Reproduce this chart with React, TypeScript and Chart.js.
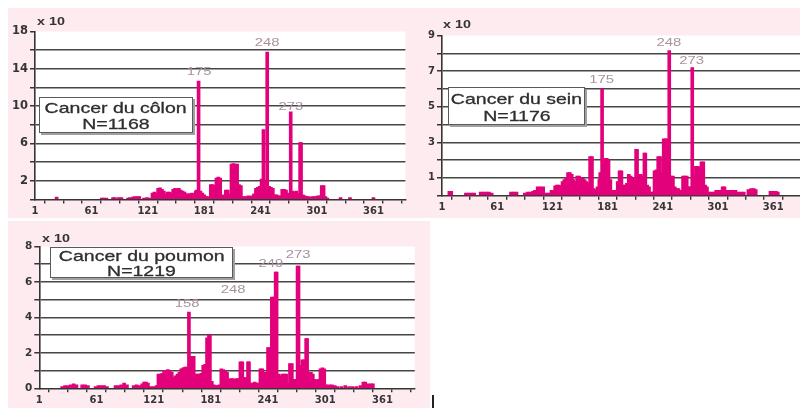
import React, { useEffect, useRef } from "react";
import { Chart, registerables } from "chart.js";

Chart.register(...registerables);

// ---------- data ----------
const xTickValues = [1, 21, 41, 61, 81, 101, 121, 141, 161, 181, 201, 221, 241, 261, 281, 301, 321, 341, 361, 381];
const xLabelValues = [1, 61, 121, 181, 241, 301, 361];

// Cancer du côlon (x 10)
const colonCodons = [
  24, 72, 74, 77, 84, 86, 90, 93, 100, 102, 105, 107, 110, 112, 117, 120, 123,
  126, 128, 130, 132, 134, 136, 138, 140, 142, 144, 146, 148, 150, 152, 154, 156,
  158, 160, 162, 164, 166, 168, 170, 172, 173, 175, 177, 179, 181, 183, 185,
  188, 190, 192, 194, 196, 198, 200, 202, 204, 206, 208, 210, 212, 214, 216, 218, 220,
  222, 224, 226, 228, 230, 232, 234, 236, 238, 240, 242, 244, 246, 248,
  250, 252, 254, 256, 258, 260, 262, 264, 266, 268, 270, 273, 275, 277, 279, 281, 283, 284,
  286, 288, 290, 292, 294, 296, 298, 300, 302, 304, 306, 308, 310, 312, 326, 336, 361,
];
const colonValues = [
  0.25, 0.15, 0.15, 0.15, 0.2, 0.2, 0.2, 0.2, 0.15, 0.2, 0.25, 0.3, 0.3, 0.3, 0.15, 0.2, 0.15,
  0.7, 0.8, 0.7, 1.2, 1.25, 1.1, 0.9, 0.6, 0.8, 0.8, 0.7, 1.1, 1.2, 1.1, 1.2, 1.0,
  0.9, 0.8, 0.6, 0.6, 0.6, 0.7, 0.6, 0.9, 1.0, 12.7, 0.9, 0.7, 0.5, 0.3, 0.3,
  1.6, 1.6, 1.5, 2.3, 2.4, 2.3, 0.4, 0.5, 1.0, 1.0, 0.6, 3.8, 3.85, 3.8, 3.8, 1.6, 1.5,
  0.3, 0.3, 0.3, 0.4, 0.3, 0.4, 0.6, 1.2, 1.3, 1.4, 2.2, 7.5, 2.0, 15.8,
  1.4, 1.3, 1.2, 0.5, 0.5, 0.4, 0.4, 1.1, 1.1, 1.0, 0.7, 9.4, 0.9, 0.8, 0.9, 0.6, 6.1, 6.1,
  0.5, 0.4, 0.3, 0.3, 0.2, 0.3, 0.3, 0.3, 0.4, 0.4, 1.5, 1.5, 0.3, 0.15, 0.2, 0.2, 0.2,
];
const colonYTicks = [0, 2, 4, 6, 8, 10, 12, 14, 16, 18];
const colonYLabels = [2, 6, 10, 14, 18];
const colonPeakTexts = ["175", "248", "273"];
const colonPeakCodons = [175.5, 247.8, 273.3];
const colonPeakValues = [13.67, 16.77, 9.91];

// Cancer du sein (x 10)
const seinCodons = [
  9, 11, 27, 30, 33, 36, 43, 46, 49, 52, 55, 76, 79, 82, 91, 94, 97, 100, 102,
  105, 108, 111, 114, 117, 120, 122, 124, 126, 128, 130, 132, 134, 136, 138, 140, 142,
  144, 146, 148, 150, 152, 154, 156, 158, 160, 162, 164, 166, 168, 170, 172, 173, 175,
  177, 178, 180, 182, 184, 186, 188, 190, 192, 194, 196, 198, 200, 202, 204, 206, 208, 210,
  212, 213, 215, 217, 219, 221, 222, 224, 226, 228, 230, 232, 234, 236, 238, 240, 242, 244, 246, 248,
  250, 252, 254, 256, 258, 260, 263, 265, 267, 269, 271, 273, 275, 277, 279, 281, 283, 285, 287, 289,
  291, 294, 297, 299, 302, 304, 306, 308, 311, 314, 317, 320, 323, 326, 329, 334, 337, 340, 342, 358, 361, 364, 366,
];
const seinValues = [
  0.25, 0.25, 0.15, 0.15, 0.15, 0.15, 0.2, 0.2, 0.2, 0.2, 0.15, 0.2, 0.2, 0.2, 0.15, 0.2, 0.2, 0.25, 0.3,
  0.5, 0.5, 0.5, 0.15, 0.15, 0.3, 0.3, 0.55, 0.6, 0.6, 0.55, 0.8, 0.9, 1.0, 1.3, 1.3, 1.2,
  0.9, 0.8, 1.1, 1.1, 1.0, 1.0, 0.9, 0.8, 0.7, 2.2, 2.2, 0.4, 0.3, 0.5, 0.9, 1.3, 6.0,
  1.2, 2.1, 2.1, 2.0, 0.9, 0.3, 0.3, 0.3, 0.8, 1.4, 1.4, 0.6, 0.6, 0.7, 1.2, 1.1, 1.0, 0.9,
  2.6, 2.6, 1.2, 1.2, 1.1, 2.4, 2.4, 0.6, 0.5, 0.2, 0.2, 1.4, 1.45, 2.2, 2.2, 1.3, 3.2, 3.2, 3.2, 8.15,
  1.1, 1.1, 0.5, 0.4, 0.4, 0.3, 1.1, 1.1, 1.1, 0.5, 0.5, 7.2, 1.1, 1.65, 1.65, 1.6, 1.9, 1.9, 0.6, 0.5,
  0.2, 0.2, 0.2, 0.3, 0.3, 0.3, 0.5, 0.5, 0.3, 0.3, 0.3, 0.3, 0.2, 0.2, 0.2, 0.35, 0.4, 0.4, 0.35, 0.25, 0.25, 0.25, 0.2,
];
const seinYTicks = [0, 1, 2, 3, 4, 5, 6, 7, 8, 9];
const seinYLabels = [1, 3, 5, 7, 9];
const seinPeakTexts = ["175", "248", "273"];
const seinPeakCodons = [174.6, 247.7, 272.4];
const seinPeakValues = [6.5, 8.58, 7.57];

// Cancer du poumon (x 10)
const poumonCodons = [
  25, 28, 31, 34, 37, 40, 46, 49, 52, 60, 63, 66, 69, 72, 81, 84, 87, 90, 93,
  100, 103, 106, 109, 111, 113, 115, 118, 121, 124, 126, 128, 130, 132, 134, 136, 138, 140,
  142, 144, 146, 148, 150, 152, 154, 156, 158, 160, 161, 163, 165, 167, 169, 171, 173, 175,
  177, 179, 180, 182, 184, 186, 188, 190, 192, 194, 196, 198, 200, 202, 204, 206, 208, 210,
  212, 214, 216, 218, 220, 221, 223, 225, 227, 229, 231, 233, 235, 237, 239, 241, 243, 245, 247, 249, 250,
  252, 254, 256, 258, 260, 262, 264, 266, 268, 270, 272, 273, 275, 277, 279, 281, 282, 284, 286, 288,
  290, 292, 294, 296, 298, 300, 302, 305, 308, 311, 314, 318, 322, 326, 330, 334, 338, 341, 343, 346, 349, 351,
];
const poumonValues = [
  0.1, 0.15, 0.15, 0.2, 0.25, 0.2, 0.2, 0.2, 0.15, 0.1, 0.15, 0.15, 0.15, 0.1, 0.15, 0.15, 0.2, 0.3, 0.2,
  0.15, 0.2, 0.15, 0.25, 0.35, 0.35, 0.3, 0.1, 0.1, 0.15, 0.8, 0.8, 0.85, 1.0, 1.0, 1.05, 1.0, 0.9,
  0.6, 0.7, 0.8, 0.9, 1.1, 1.15, 1.2, 1.2, 4.3, 1.2, 1.8, 1.8, 0.8, 0.8, 0.8, 0.85, 1.3, 1.35,
  2.85, 3.0, 3.0, 0.4, 0.2, 0.15, 0.15, 0.2, 1.1, 1.05, 1.0, 0.9, 0.5, 0.55, 0.55, 0.5, 0.55, 0.55,
  1.5, 1.5, 0.6, 0.6, 1.5, 1.5, 0.3, 0.3, 0.35, 0.3, 0.3, 1.1, 1.1, 0.9, 0.9, 2.3, 2.3, 5.15, 5.15, 6.55, 6.55,
  0.8, 0.7, 0.8, 0.8, 0.8, 0.3, 1.4, 1.4, 0.5, 0.5, 6.9, 6.9, 1.3, 1.6, 1.6, 2.8, 2.8, 0.9, 0.9, 0.8,
  0.5, 0.45, 0.5, 1.1, 1.15, 1.1, 0.2, 0.2, 0.2, 0.15, 0.1, 0.1, 0.15, 0.1, 0.1, 0.1, 0.15, 0.35, 0.35, 0.25, 0.25, 0.25,
];
const poumonYTicks = [0, 1, 2, 3, 4, 5, 6, 7, 8];
const poumonYLabels = [0, 2, 4, 6, 8];
const poumonPeakTexts = ["158", "248", "249", "273"];
const poumonPeakCodons = [156, 204.3, 244.1, 272.5];
const poumonPeakValues = [4.76, 5.55, 7.0, 7.53];

// ---------- styles ----------
const BAR = "#e3007b";
const GRID = "#464646";
const AXIS = "#353535";
const TICK_TEXT = "#353535";
const PEAK_TEXT = "#a9919f";
const PINK = "#fdebf0";
const SANS = "'Liberation Sans', Arial, sans-serif";

type PanelProps = {
  codons: number[];
  values: number[];
  yTicks: number[];
  yLabels: number[];
  peakTexts: string[];
  peakCodons: number[];
  peakValues: number[];
  left: number;
  top: number;
  width: number;
  height: number;
  areaLeft: number;
  areaTop: number;
  areaRight: number;
  areaBottom: number;
  yFont: number;
};

function BarPanel(p: PanelProps) {
  const ref = useRef<HTMLCanvasElement>(null);
  useEffect(() => {
    const yMax = p.yTicks[p.yTicks.length - 1];
    const whiteArea = {
      id: "whiteArea",
      beforeDraw(chart: any) {
        const a = chart.chartArea;
        const c = chart.ctx;
        c.save();
        c.fillStyle = "#ffffff";
        c.fillRect(a.left, a.top, a.right - a.left, a.bottom - a.top);
        c.restore();
      },
    };
    const peakLabels = {
      id: "peakLabels",
      afterDatasetsDraw(chart: any) {
        const c = chart.ctx;
        const xs = chart.scales.x;
        const ys = chart.scales.y;
        c.save();
        c.fillStyle = PEAK_TEXT;
        c.font = "11px " + SANS;
        c.textAlign = "center";
        c.textBaseline = "middle";
        p.peakTexts.forEach((t, i) => {
          c.save();
          c.translate(xs.getPixelForValue(p.peakCodons[i]), ys.getPixelForValue(p.peakValues[i]));
          c.scale(1.35, 1);
          c.fillText(t, 0, 0);
          c.restore();
        });
        c.restore();
      },
    };
    const chart = new Chart(ref.current as HTMLCanvasElement, {
      type: "bar",
      data: {
        datasets: [
          {
            data: p.codons.map((c, i) => ({ x: c, y: p.values[i] })),
            backgroundColor: BAR,
            borderWidth: 0,
            barThickness: 3,
          } as any,
        ],
      },
      options: {
        animation: false,
        responsive: false,
        maintainAspectRatio: false,
        devicePixelRatio: 1,
        layout: {
          padding: { left: 0, top: p.areaTop, right: p.width - p.areaRight, bottom: 0 },
        },
        plugins: { legend: { display: false }, tooltip: { enabled: false } },
        scales: {
          x: {
            type: "linear",
            min: 1,
            max: 395,
            offset: false,
            afterBuildTicks: (s: any) => {
              s.ticks = xTickValues.map((v) => ({ value: v }));
            },
            afterFit: (s: any) => {
              s.height = p.height - p.areaBottom;
            },
            grid: {
              drawOnChartArea: false,
              drawTicks: true,
              tickLength: 4,
              color: AXIS,
              tickColor: AXIS,
              lineWidth: 1.4,
            },
            border: { display: true, color: AXIS, width: 1.6 },
            ticks: {
              autoSkip: false,
              maxRotation: 0,
              padding: 2,
              color: TICK_TEXT,
              font: { family: "'DejaVu Sans'", weight: "bold", size: 10 },
              callback: (v: any) => (xLabelValues.includes(Number(v)) ? String(v) : ""),
            },
          },
          y: {
            type: "linear",
            min: 0,
            max: yMax,
            afterBuildTicks: (s: any) => {
              s.ticks = p.yTicks.map((v) => ({ value: v }));
            },
            afterFit: (s: any) => {
              s.width = p.areaLeft;
            },
            grid: {
              drawTicks: true,
              tickLength: 5,
              tickColor: AXIS,
              lineWidth: 1.5,
              color: (ctx: any) =>
                ctx.tick && (ctx.tick.value === 0 || ctx.tick.value === yMax) ? "rgba(0,0,0,0)" : GRID,
            },
            border: { display: true, color: AXIS, width: 1.6 },
            ticks: {
              padding: 2,
              color: TICK_TEXT,
              font: { family: "'DejaVu Sans'", weight: "bold", size: p.yFont },
              callback: (v: any) => (p.yLabels.includes(Number(v)) ? String(v) : ""),
            },
          },
        },
      } as any,
      plugins: [whiteArea, peakLabels],
    });
    return () => chart.destroy();
  }, []);
  return (
    <canvas
      ref={ref}
      width={p.width}
      height={p.height}
      style={{ position: "absolute", left: p.left, top: p.top, width: p.width, height: p.height }}
    />
  );
}

function LegendBox(props: { left: number; top: number; width: number; height: number; lines: string[]; centers: number[] }) {
  return (
    <div
      style={{
        position: "absolute",
        left: props.left,
        top: props.top,
        width: props.width,
        height: props.height,
        boxSizing: "border-box",
        background: "#ffffff",
        border: "1.5px solid #5a5a5a",
        boxShadow: "2px 2px 0 #a0a0a0",
      }}
    >
      {props.lines.map((t, i) => (
        <div
          key={i}
          style={{
            position: "absolute",
            left: 0,
            width: "100%",
            top: props.centers[i] - 9,
            height: 18,
            lineHeight: "18px",
            textAlign: "center",
            whiteSpace: "nowrap",
          }}
        >
          <span
            style={{
              display: "inline-block",
              transform: "scaleX(1.3)",
              font: "15px " + SANS,
              color: "#2e2e2e",
              WebkitTextStroke: "0.3px #2e2e2e",
            }}
          >
            {t}
          </span>
        </div>
      ))}
    </div>
  );
}

function Times10(props: { left: number; top: number }) {
  return (
    <div
      style={{
        position: "absolute",
        left: props.left,
        top: props.top,
        font: "bold 11px " + SANS,
        color: "#333333",
        transform: "scaleX(1.3)",
        transformOrigin: "left center",
        lineHeight: "12px",
        whiteSpace: "nowrap",
      }}
    >
      x 10
    </div>
  );
}

export default function App() {
  return (
    <div
      style={{
        position: "absolute",
        left: 0,
        top: 0,
        width: 800,
        height: 408,
        overflow: "hidden",
        background: "#ffffff",
      }}
    >
      <div style={{ position: "absolute", left: 8, top: 8, width: 792, height: 210, background: PINK }} />
      <div style={{ position: "absolute", left: 8, top: 221, width: 422, height: 187, background: PINK }} />

      <BarPanel
        codons={colonCodons}
        values={colonValues}
        yTicks={colonYTicks}
        yLabels={colonYLabels}
        peakTexts={colonPeakTexts}
        peakCodons={colonPeakCodons}
        peakValues={colonPeakValues}
        left={0}
        top={0}
        width={412}
        height={218}
        areaLeft={35}
        areaTop={31.5}
        areaRight={405.4}
        areaBottom={199.5}
        yFont={11.5}
      />
      <BarPanel
        codons={seinCodons}
        values={seinValues}
        yTicks={seinYTicks}
        yLabels={seinYLabels}
        peakTexts={seinPeakTexts}
        peakCodons={seinPeakCodons}
        peakValues={seinPeakValues}
        left={412}
        top={0}
        width={400}
        height={218}
        areaLeft={30}
        areaTop={35.5}
        areaRight={392.5}
        areaBottom={195.7}
        yFont={10}
      />
      <BarPanel
        codons={poumonCodons}
        values={poumonValues}
        yTicks={poumonYTicks}
        yLabels={poumonYLabels}
        peakTexts={poumonPeakTexts}
        peakCodons={poumonPeakCodons}
        peakValues={poumonPeakValues}
        left={0}
        top={220}
        width={430}
        height={188}
        areaLeft={39.3}
        areaTop={26.5}
        areaRight={414.8}
        areaBottom={168.3}
        yFont={10.5}
      />

      <Times10 left={37} top={15} />
      <Times10 left={443} top={18} />
      <Times10 left={42} top={232} />

      <LegendBox left={39} top={97} width={154} height={36} lines={["Cancer du côlon", "N=1168"]} centers={[10, 26]} />
      <LegendBox left={448} top={87} width={137} height={38} lines={["Cancer du sein", "N=1176"]} centers={[11, 28]} />
      <LegendBox left={50} top={247} width={183} height={31} lines={["Cancer du poumon", "N=1219"]} centers={[8, 23]} />

      <div style={{ position: "absolute", left: 432, top: 395, width: 1.5, height: 13, background: "#222222" }} />
    </div>
  );
}
